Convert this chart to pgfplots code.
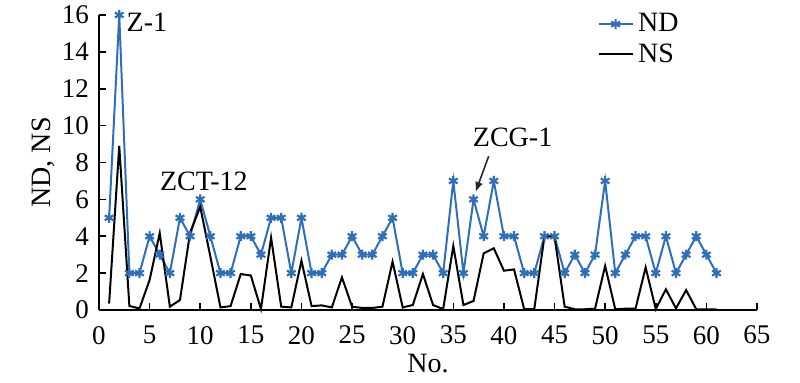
\documentclass[border=0pt]{standalone}
\usepackage{pgfplots}
\pgfplotsset{compat=1.18}
\usetikzlibrary{arrows.meta}
\usepackage{fontspec}
\setmainfont{Liberation Serif}
\definecolor{ndblue}{RGB}{47,110,186}
\definecolor{arrgray}{RGB}{40,40,40}
\begin{document}
\begin{tikzpicture}
\useasboundingbox (-49.5pt,-36.5pt) rectangle (350.5pt,155pt);
\begin{axis}[
  at={(0,0)}, anchor=south west,
  scale only axis, width=329pt, height=147.5pt,
  xmin=0, xmax=65, ymin=0, ymax=16,
  axis x line*=bottom, axis y line*=left,
  axis line style={line width=0.8pt},
  xtick={0,5,...,65}, ytick={0,2,...,16},
  tick align=inside, major tick length=3.3pt,
  tick style={line width=0.8pt, black},
  /pgf/number format/assume math mode=true,
  ticklabel style={font=\fontsize{13.5}{15}\selectfont},
  xticklabel style={yshift=-4.5pt},
  yticklabel style={xshift=-1.5pt},
  label style={font=\fontsize{14}{16}\selectfont},
  xlabel={No.}, ylabel={ND, NS},
  xlabel style={at={(axis description cs:0.5,-0.183)}, anchor=center},
  ylabel style={at={(axis description cs:-0.085,0.5)}, anchor=center},
  legend style={at={(axis description cs:0.748,1.035)}, anchor=north west,
    draw=none, fill=none, font=\fontsize{14}{16}\selectfont,
    nodes={inner sep=2.2pt}, row sep=0pt},
  legend cell align=left,
  clip=false,
]
\addplot[color=ndblue, line width=1pt, mark=asterisk, mark size=2.5pt, mark options={solid, line width=1.1pt}] coordinates {
(1,5)(2,16)(3,2)(4,2)(5,4)(6,3)(7,2)(8,5)(9,4)(10,6)
(11,4)(12,2)(13,2)(14,4)(15,4)(16,3)(17,5)(18,5)(19,2)(20,5)
(21,2)(22,2)(23,3)(24,3)(25,4)(26,3)(27,3)(28,4)(29,5)(30,2)
(31,2)(32,3)(33,3)(34,2)(35,7)(36,2)(37,6)(38,4)(39,7)(40,4)
(41,4)(42,2)(43,2)(44,4)(45,4)(46,2)(47,3)(48,2)(49,3)(50,7)
(51,2)(52,3)(53,4)(54,4)(55,2)(56,4)(57,2)(58,3)(59,4)(60,3)
(61,2)};
\addlegendentry{ND}
\addplot[color=black, line width=1pt, mark=none] coordinates {
(1,0.35)(2,8.9)(3,0.22)(4,0.08)(5,1.63)(6,4.17)(7,0.18)(8,0.54)(9,4.2)(10,5.6)
(11,2.9)(12,0.14)(13,0.21)(14,1.95)(15,1.87)(16,0.05)(17,3.92)(18,0.18)(19,0.14)(20,2.67)
(21,0.21)(22,0.25)(23,0.14)(24,1.77)(25,0.18)(26,0.11)(27,0.11)(28,0.18)(29,2.62)(30,0.14)
(31,0.27)(32,1.95)(33,0.27)(34,0.05)(35,3.47)(36,0.27)(37,0.49)(38,3.07)(39,3.35)(40,2.13)
(41,2.2)(42,0.05)(43,0.05)(44,3.98)(45,3.98)(46,0.18)(47,0.04)(48,0.04)(49,0.07)(50,2.39)
(51,0.04)(52,0.07)(53,0.07)(54,2.31)(55,0.05)(56,1.12)(57,0.09)(58,1.08)(59,0.04)(60,0.04)
(61,0.04)};
\addlegendentry{NS}
\node[font=\fontsize{14}{16}\selectfont] at (axis cs:4.73,15.6) {Z-1};
\node[font=\fontsize{14}{16}\selectfont] at (axis cs:10.36,6.97) {ZCT-12};
\node[font=\fontsize{14}{16}\selectfont] at (axis cs:40.86,9.38) {ZCG-1};
\draw[arrgray, line width=0.8pt, -{Latex[length=5pt,width=4pt]}] (axis cs:38.5,8.35) -- (axis cs:37.2,6.4);
\end{axis}
\end{tikzpicture}
\end{document}
